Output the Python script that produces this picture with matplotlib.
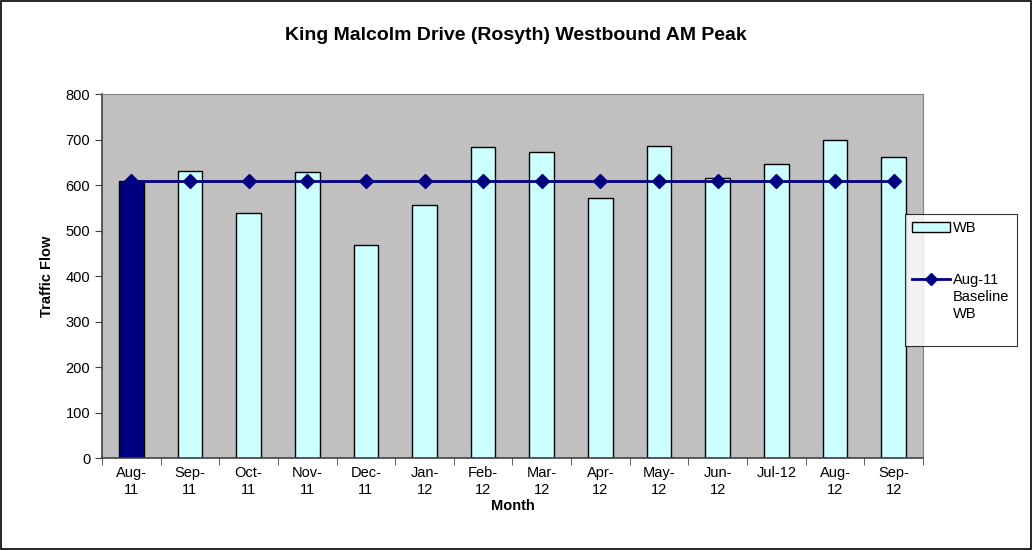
import numpy as np
import matplotlib
matplotlib.use("Agg")
import matplotlib.pyplot as plt
from matplotlib.patches import Rectangle, Patch
from matplotlib.lines import Line2D

plt.rcParams["font.family"] = ["Liberation Sans", "DejaVu Sans"]

# Data
months = ["Aug-\n11", "Sep-\n11", "Oct-\n11", "Nov-\n11", "Dec-\n11", "Jan-\n12", "Feb-\n12",
          "Mar-\n12", "Apr-\n12", "May-\n12", "Jun-\n12", "Jul-12", "Aug-\n12", "Sep-\n12"]
wb_flow = [610, 631, 538, 628, 468, 557, 683, 673, 572, 686, 615, 647, 698, 662]
baseline = [610] * 14

fig = plt.figure(figsize=(10.32, 5.5), dpi=100)
ax = fig.add_axes([0.0988, 0.167, 0.7956, 0.662])
ax.set_facecolor("#c0c0c0")

x = np.arange(len(months))
colors = ["#000080"] + ["#ccffff"] * (len(months) - 1)
ax.bar(x, wb_flow, width=0.42, color=colors, edgecolor="black", linewidth=1, zorder=2)
ax.plot(x, baseline, color="#000080", linewidth=2, marker="D", markersize=7, zorder=3)

ax.set_xlim(-0.5, len(months) - 0.5)
ax.set_ylim(0, 800)
ax.set_yticks(range(0, 801, 100))
ax.set_xticks(x)
ax.set_xticklabels(months, fontsize=10.5)
ax.set_xticks(np.arange(-0.5, len(months), 1), minor=True)
ax.tick_params(axis="x", which="major", length=0, pad=6)
ax.tick_params(axis="x", which="minor", length=5, direction="out", color="#404040")
ax.tick_params(axis="y", labelsize=10.5, length=5, direction="out", color="#404040")

for side in ["top", "right"]:
    ax.spines[side].set_color("#808080")
    ax.spines[side].set_linewidth(0.8)
for side in ["left", "bottom"]:
    ax.spines[side].set_color("#404040")
    ax.spines[side].set_linewidth(1.2)

ax.set_xlabel("Month", fontsize=10.5, fontweight="bold", labelpad=2)
ax.set_ylabel("Traffic Flow", fontsize=10.5, fontweight="bold", labelpad=8)
fig.text(0.5, 0.935, "King Malcolm Drive (Rosyth) Westbound AM Peak", ha="center", va="center",
         fontsize=14, fontweight="bold")

# legend: bar entry, gap, then line entry with its label split over three rows
blank = Line2D([], [], linestyle="none")
handles = [Patch(facecolor="#ccffff", edgecolor="black", linewidth=1), blank, blank,
           Line2D([], [], color="#000080", linewidth=2, marker="D", markersize=6), blank, blank, blank]
labels = ["WB", " ", " ", "Aug-11", "Baseline", "WB", " "]
leg = fig.legend(handles, labels, loc="upper left", bbox_to_anchor=(0.877, 0.611), frameon=True,
                 fancybox=False, fontsize=10.5, borderpad=0.5, labelspacing=0.22, borderaxespad=0,
                 handlelength=2.6, handleheight=0.6, handletextpad=0.2, edgecolor="black")
leg.get_frame().set_linewidth(0.8)

fig.patches.append(Rectangle((0.001, 0.002), 0.998, 0.996, transform=fig.transFigure,
                             fill=False, edgecolor="black", linewidth=1.2))

fig.savefig("out.png", dpi=100)
